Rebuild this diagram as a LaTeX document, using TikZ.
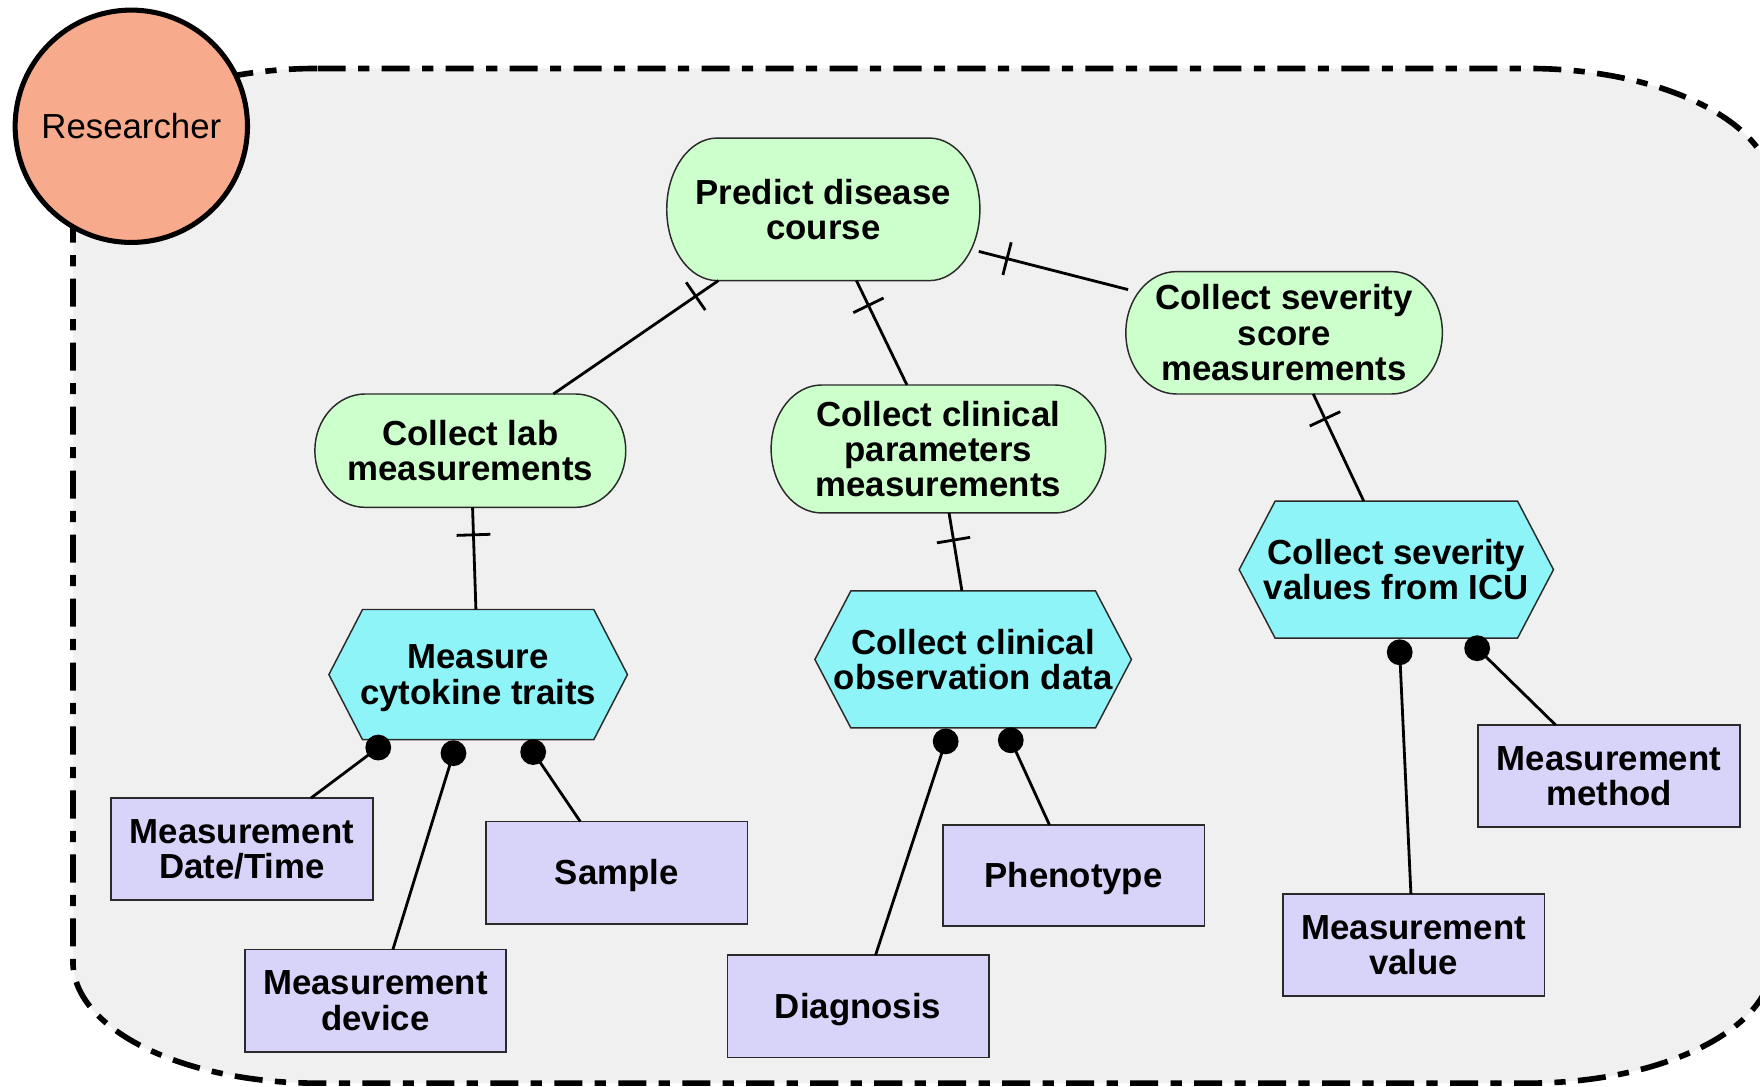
\documentclass[tikz,border=0pt]{standalone}
\usepackage{fontspec}
\setmainfont{Liberation Sans}
\usetikzlibrary{calc}
\pgfdeclarelayer{back}
\pgfdeclarelayer{shp}
\pgfsetlayers{back,shp,main}
\definecolor{gfill}{HTML}{CCFFCC}
\definecolor{cfill}{HTML}{8EF4F8}
\definecolor{pfill}{HTML}{D8D3F8}
\definecolor{rfill}{HTML}{F8AA8C}
\definecolor{bgray}{HTML}{F0F0F0}
\definecolor{edgec}{HTML}{2A2A2A}
\tikzset{
  lbl/.style={inner sep=0pt, outer sep=0pt, align=center, font=\fontsize{31}{31.5}\selectfont\bfseries},
  oneline/.style={text height=28pt, text depth=6.5pt},
  attr/.style={lbl, draw=edgec, fill=pfill, line width=1.5pt, minimum width=233pt, minimum height=91pt},
  link/.style={line width=2.5pt, black},
  boundary/.style={fill=bgray, draw=black, line width=5pt, dash pattern=on 25pt off 11pt on 10pt off 11pt},
  actor/.style={circle, draw=black, fill=rfill, line width=4.5pt, minimum size=207pt, inner sep=0pt, font=\fontsize{31}{31.5}\selectfont},
  gshape/.style={draw=edgec, fill=gfill, line width=1.3pt},
  cshape/.style={draw=edgec, fill=cfill, line width=1.3pt}
}
\newcommand\greenshape[1]{%
  \begin{pgfonlayer}{shp}
    \draw[gshape] let \p1=(#1.north west), \p2=(#1.south east), \n1={(\y1-\y2)/2} in
      (\x1+45pt,\y1) -- (\x2-45pt,\y1) arc[start angle=90,end angle=-90,x radius=45pt,y radius=\n1]
      -- (\x1+45pt,\y2) arc[start angle=270,end angle=90,x radius=45pt,y radius=\n1] -- cycle;
  \end{pgfonlayer}}
\newcommand\hexshape[2]{%
  \begin{pgfonlayer}{shp}
    \draw[cshape] let \p1=(#1.north west), \p2=(#1.south east) in
      (\x1+#2,\y1) -- (\x2-#2,\y1) -- (#1.east) -- (\x2-#2,\y2) -- (\x1+#2,\y2) -- (#1.west) -- cycle;
  \end{pgfonlayer}}
\newcommand\tickline[3]{%
  \draw[link] (#1) -- (#2);
  \draw[link] ($(#1)!#3!(#2)!15pt!90:(#2)$) -- ($(#1)!#3!(#2)!15pt!-90:(#2)$);}
\newcommand\dotline[2]{%
  \draw[link] (#1) -- (#2);
  \fill[black] (#1) circle (11.5pt);}
\begin{document}
\begin{tikzpicture}[x=1pt,y=1pt]
\useasboundingbox (0,0) rectangle (1568,-968);
\begin{pgfonlayer}{back}
  \fill[white] (0,0) rectangle (1568,-968);
  \draw[boundary] (283,-61) -- (1361,-61)
    arc[start angle=90,end angle=0,x radius=218,y radius=108]
    -- (1579,-857) arc[start angle=0,end angle=-90,x radius=218,y radius=108]
    -- (283,-965) arc[start angle=270,end angle=180,x radius=218,y radius=108]
    -- (65,-169) arc[start angle=180,end angle=90,x radius=218,y radius=108] -- cycle;
\end{pgfonlayer}

\node[actor, oneline] (res) at (117,-112.5) {Researcher};

% goals
\node[lbl, minimum width=279pt, minimum height=127pt] (pred) at (733.5,-186.5) {Predict disease\\course};
\node[lbl, minimum width=277pt, minimum height=101pt] (lab) at (419,-401.5) {Collect lab\\measurements};
\node[lbl, minimum width=298pt, minimum height=114pt] (clin) at (836,-400) {Collect clinical\\parameters\\measurements};
\node[lbl, minimum width=282pt, minimum height=109pt] (sev) at (1144,-296.5) {Collect severity\\score\\measurements};
\greenshape{pred}
\greenshape{lab}
\greenshape{clin}
\greenshape{sev}

% tasks
\node[lbl, minimum width=266pt, minimum height=116pt] (cyt) at (426,-601) {Measure\\\smash{cytokine traits}};
\node[lbl, minimum width=282pt, minimum height=122pt] (obs) at (867,-587.5) {Collect clinical\\observation data};
\node[lbl, minimum width=280pt, minimum height=122pt] (icu) at (1244,-507.5) {Collect severity\\values from ICU};
\hexshape{cyt}{30pt}
\hexshape{obs}{32pt}
\hexshape{icu}{32pt}

% attributes
\node[attr] (mdt) at (215.5,-756.5) {Measurement\\Date/Time};
\node[attr] (dev) at (334.5,-891.5) {Measurement\\device};
\node[attr, oneline] (sample) at (549.5,-777.5) {Sample};
\node[attr, oneline] (diag) at (764.5,-896.5) {Diagnosis};
\node[attr, oneline, minimum height=90pt] (pheno) at (956.5,-780) {Phenotype};
\node[attr] (mval) at (1259.5,-842) {Measurement\\value};
\node[attr] (mmeth) at (1433.5,-691.5) {Measurement\\method};

% connector end points
\coordinate (a1) at ($(pred.south)+(-93.5,0)$);
\coordinate (b1) at ($(lab.north)+(74,0)$);
\coordinate (a2) at ($(pred.south)+(29.5,0)$);
\coordinate (b2) at ($(clin.north)+(-28,0)$);
\coordinate (a3) at ($(pred.east)+(-1,-37.5)$);
\coordinate (b3) at ($(sev.west)+(2,38.5)$);
\coordinate (a4) at ($(sev.south)+(26,0)$);
\coordinate (b4) at ($(icu.north)+(-29,0)$);
\coordinate (a5) at ($(lab.south)+(2,0)$);
\coordinate (b5) at ($(cyt.north)+(-2,0)$);
\coordinate (a6) at ($(clin.south)+(9.5,0)$);
\coordinate (b6) at ($(obs.north)+(-10,0)$);

\tickline{a1}{b1}{24.5pt}
\tickline{a2}{b2}{24.5pt}
\tickline{a3}{b3}{26pt}
\tickline{a4}{b4}{24.5pt}
\tickline{a5}{b5}{24.5pt}
\tickline{a6}{b6}{24.5pt}

\coordinate (d1) at ($(cyt.south)+(-89,-7)$);
\coordinate (e1) at ($(mdt.north)+(61.5,0)$);
\coordinate (d2) at ($(cyt.south)+(-22,-12)$);
\coordinate (e2) at ($(dev.north)+(15.5,0)$);
\coordinate (d3) at ($(cyt.south)+(49,-11)$);
\coordinate (e3) at ($(sample.north)+(-32.5,0)$);
\coordinate (d4) at ($(obs.south)+(-24.5,-12)$);
\coordinate (e4) at ($(diag.north)+(15.5,0)$);
\coordinate (d5) at ($(obs.south)+(33.5,-11)$);
\coordinate (e5) at ($(pheno.north)+(-21.5,0)$);
\coordinate (d6) at ($(icu.south)+(3,-12.6)$);
\coordinate (e6) at ($(mval.north)+(-2.5,0)$);
\coordinate (d7) at ($(icu.south)+(72,-9)$);
\coordinate (e7) at ($(mmeth.north)+(-47.5,0)$);

\dotline{d1}{e1}
\dotline{d2}{e2}
\dotline{d3}{e3}
\dotline{d4}{e4}
\dotline{d5}{e5}
\dotline{d6}{e6}
\dotline{d7}{e7}
\end{tikzpicture}
\end{document}
